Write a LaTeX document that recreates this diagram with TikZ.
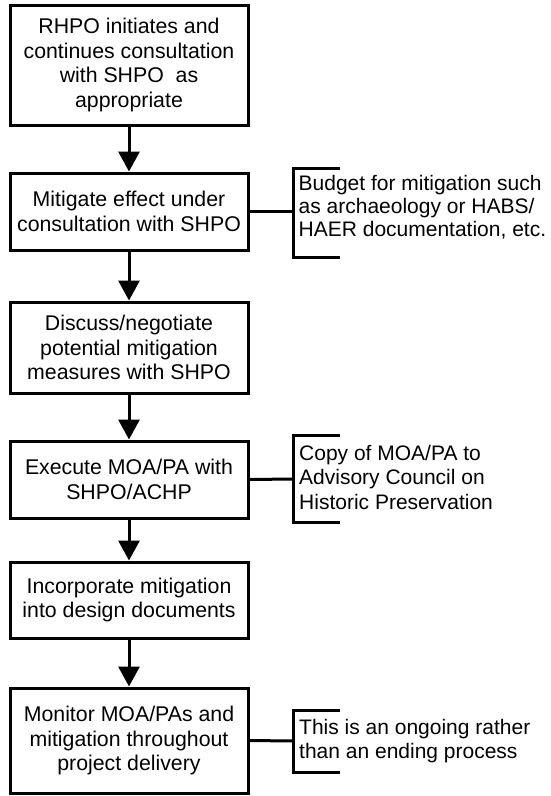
\documentclass[tikz,border=0pt]{standalone}
\usepackage{fontspec}
\setmainfont{Liberation Sans}
\usetikzlibrary{arrows.meta}
\begin{document}
\begin{tikzpicture}[x=1pt,y=1pt,
  stepbox/.style={draw, line width=3pt, minimum width=238pt, inner sep=0pt, align=center, font=\fontsize{21.3}{24.5}\selectfont},
  flow/.style={line width=3pt, -{Triangle[length=20pt,width=21pt]}},
  note/.style={anchor=north west, inner sep=0pt, align=left, font=\fontsize{21}{24.5}\selectfont},
  brk/.style={line width=3pt}]
\useasboundingbox (0,0) rectangle (550,-796);
\node[stepbox, minimum height=120pt] (b1) at (129,-65) {RHPO initiates and\\continues consultation\\with SHPO\ \ as\\appropriate};
\node[stepbox, minimum height=77pt] (b2) at (129,-211.5) {Mitigate effect under\\consultation with SHPO};
\node[stepbox, minimum height=91pt] (b3) at (129,-347.5) {Discuss/negotiate\\potential mitigation\\measures with SHPO};
\node[stepbox, minimum height=77pt] (b4) at (129,-479.5) {Execute MOA/PA with\\SHPO/ACHP};
\node[stepbox, minimum height=76pt] (b5) at (129,-600) {Incorporate mitigation\\into design documents};
\node[stepbox, minimum height=105pt] (b6) at (129,-740.5) {Monitor MOA/PAs and\\mitigation throughout\\project delivery};
\draw[flow] (b1) -- (b2);
\draw[flow] (b2) -- (b3);
\draw[flow] (b3) -- (b4);
\draw[flow] (b4) -- (b5);
\draw[flow] (b5) -- (b6);
% brackets
\coordinate (k2) at (293,-211.5);
\coordinate (k4) at (293,-479);
\coordinate (k6) at (293,-741);
\draw[brk] (340,-168) -- (293,-168) -- (293,-257) -- (340,-257);
\draw[brk] (340,-435) -- (293,-435) -- (293,-522) -- (340,-522);
\draw[brk] (340,-710) -- (293,-710) -- (293,-772) -- (340,-772);
\draw[brk] (b2.east) -- (k2);
\draw[brk] (b4.east) -- (k4);
\draw[brk] (b6.east) -- (k6);
\node[note, font=\fontsize{21}{23}\selectfont] (n2) at (298.5,-175.4) {Budget for mitigation such\\as archaeology or HABS/\\HAER documentation, etc.};
\node[note] (n4) at (299,-444.7) {Copy of MOA/PA to\\Advisory Council on\\Historic Preservation};
\node[note] (n6) at (299,-719) {This is an ongoing rather\\than an ending process};
\end{tikzpicture}
\end{document}
